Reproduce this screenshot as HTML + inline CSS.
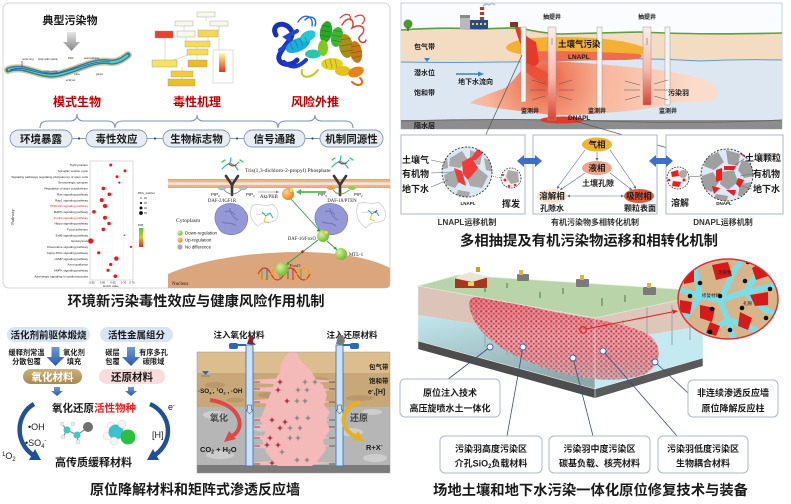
<!DOCTYPE html>
<html><head><meta charset="utf-8">
<style>
html,body{margin:0;padding:0;background:#fff;}
svg{display:block;}
text{font-family:"Liberation Sans","Noto Sans CJK SC",sans-serif;fill:#1a1a1a;}
.b{font-weight:bold;}
.s{font-family:"Liberation Serif","Noto Serif CJK SC",serif;}
</style></head><body>
<svg width="791" height="504" viewBox="0 0 791 504" xmlns="http://www.w3.org/2000/svg">
<defs>
 <linearGradient id="ga" x1="0" y1="0" x2="0" y2="1"><stop offset="0" stop-color="#e6e6e6"/><stop offset="1" stop-color="#858585"/></linearGradient>
 <linearGradient id="fdr" x1="0" y1="0" x2="0" y2="1"><stop offset="0" stop-color="#40d040"/><stop offset="0.5" stop-color="#e0c020"/><stop offset="1" stop-color="#f02020"/></linearGradient>
 <linearGradient id="hm" x1="0" y1="0" x2="0" y2="1"><stop offset="0" stop-color="#ffffa0"/><stop offset="1" stop-color="#f03010"/></linearGradient>
 <radialGradient id="plg" cx="545" cy="80" r="150" gradientUnits="userSpaceOnUse"><stop offset="0" stop-color="#e8503a"/><stop offset="0.15" stop-color="#f08262"/><stop offset="0.42" stop-color="#f8b89e"/><stop offset="1" stop-color="#fbdccb"/></radialGradient>
 <linearGradient id="wr" x1="0" y1="0" x2="0" y2="1"><stop offset="0" stop-color="#fbeeea"/><stop offset="0.55" stop-color="#f6b8a8"/><stop offset="1" stop-color="#e04030"/></linearGradient>
 <linearGradient id="brn" x1="0" y1="0" x2="0" y2="1"><stop offset="0" stop-color="#cdb07a"/><stop offset="1" stop-color="#a88a4e"/></linearGradient>
 <linearGradient id="ar" x1="0" y1="0" x2="0" y2="1"><stop offset="0" stop-color="#6f9ad8"/><stop offset="1" stop-color="#2a58a8"/></linearGradient>
 <linearGradient id="wg" x1="0" y1="0" x2="0.5" y2="1"><stop offset="0" stop-color="#c2e8ef"/><stop offset="0.55" stop-color="#a6c6ca"/><stop offset="1" stop-color="#8ea8aa"/></linearGradient>
 <linearGradient id="plo" x1="0" y1="0" x2="0" y2="1"><stop offset="0" stop-color="#d83848" stop-opacity="0.45"/><stop offset="0.5" stop-color="#d83848" stop-opacity="0.1"/><stop offset="1" stop-color="#98aeb2" stop-opacity="0.45"/></linearGradient>
 <pattern id="pp" width="5" height="5" patternUnits="userSpaceOnUse"><rect width="5" height="5" fill="#e6a4a8"/><circle cx="1.3" cy="1.3" r="1.1" fill="#c83848"/><circle cx="3.8" cy="3.8" r="1" fill="#cf4a58"/><circle cx="3.8" cy="1.2" r="0.7" fill="#f6e2e2"/></pattern>
 <radialGradient id="gb" cx="0.35" cy="0.35" r="0.7"><stop offset="0" stop-color="#d8f0a0"/><stop offset="1" stop-color="#6cb82a"/></radialGradient>
 <radialGradient id="ob" cx="0.35" cy="0.35" r="0.7"><stop offset="0" stop-color="#ffd090"/><stop offset="1" stop-color="#e8801c"/></radialGradient>
 <clipPath id="c1"><circle cx="467" cy="172" r="25"/></clipPath>
 <clipPath id="c3"><circle cx="727" cy="175" r="26"/></clipPath>
 <clipPath id="ci"><ellipse cx="728" cy="299" rx="50" ry="40"/></clipPath>
 <clipPath id="bc"><rect x="197" y="352" width="193" height="121"/></clipPath>
 <path id="st" d="M0,-3 L0.9,-0.9 L3,0 L0.9,0.9 L0,3 L-0.9,0.9 L-3,0 L-0.9,-0.9 Z"/>
</defs>

<!-- ================= TOP LEFT ================= -->
<rect x="3" y="3" width="387" height="285" rx="6" fill="#fff" stroke="#d4d4d4"/>
<text x="70" y="24" font-size="11" class="b" text-anchor="middle">典型污染物</text>
<path d="M67,32 H76 V42 H80 L71.5,51 L63,42 H67 Z" fill="url(#ga)"/>
<!-- worm -->
<path d="M8,70 C25,63 40,79 60,74 C80,69 95,59 110,62 C118,63 124,58 128,55" fill="none" stroke="#d8c89e" stroke-width="8" stroke-linecap="round"/>
<path d="M8,70 C25,63 40,79 60,74 C80,69 95,59 110,62 C118,63 124,58 128,55" fill="none" stroke="#2c7fa0" stroke-width="5" stroke-linecap="round"/>
<path d="M8,70 C25,63 40,79 60,74 C80,69 95,59 110,62 C118,63 124,58 128,55" fill="none" stroke="#5ccac0" stroke-width="2.2"/>
<path d="M10,70 C25,64 40,78 60,73 C80,68 95,60 110,62" fill="none" stroke="#1d4e8a" stroke-width="0.7"/>
<path d="M22,61 V67" stroke="#d02020" stroke-width="0.8"/>
<text x="22" y="60" font-size="2.6" fill="#d02020">nerve ring</text>
<text x="38" y="60" font-size="2.6" fill="#20a8c0">body wall muscle</text>
<text x="68" y="59" font-size="2.6" fill="#d02020">DNC</text>
<text x="84" y="59" font-size="2.6">spermatheca</text>
<text x="44" y="72" font-size="2.4">cross section</text>
<text x="74" y="75" font-size="2.4">vulva</text>
<text x="96" y="75" font-size="2.4">gonad</text>
<text x="66" y="81" font-size="2.4" fill="#d02020">embryos</text>
<!-- flowchart -->
<g stroke="#bbb" stroke-width="0.5" fill="none">
 <path d="M206,17 V21 M184,26 V31 M219,26 V30 M186,37 V41 M208,37 V41 M197,47 V49 M197,55 V60 M165,38 V60 M182,67 V71 M182,77 V79 M219,26 V53 M165,63 L188,55"/>
</g>
<rect x="197" y="12" width="18" height="5" fill="#f7f7ea" stroke="#999" stroke-width="0.4"/>
<rect x="175" y="21" width="18" height="5" fill="#f7f7ea" stroke="#999" stroke-width="0.4"/>
<rect x="210" y="21" width="18" height="5" fill="#f7f7ea" stroke="#999" stroke-width="0.4"/>
<rect x="155" y="31" width="18" height="7" fill="#e8402a" stroke="#999" stroke-width="0.4"/>
<rect x="177" y="31" width="18" height="6" fill="#f7f7ea" stroke="#999" stroke-width="0.4"/>
<rect x="198" y="30" width="20" height="7" fill="#f6d850" stroke="#999" stroke-width="0.4"/>
<rect x="185" y="41" width="25" height="6" fill="#f6dc50" stroke="#999" stroke-width="0.4"/>
<rect x="187" y="49" width="21" height="6" fill="#f6dc50" stroke="#999" stroke-width="0.4"/>
<rect x="152" y="60" width="25" height="7" fill="#f8e060" stroke="#999" stroke-width="0.4"/>
<rect x="188" y="60" width="19" height="7" fill="#f0b830" stroke="#999" stroke-width="0.4"/>
<rect x="171" y="71" width="22" height="6" fill="#f4cc30" stroke="#999" stroke-width="0.4"/>
<rect x="168" y="79" width="27" height="7" fill="#e8c020" stroke="#999" stroke-width="0.4"/>
<rect x="213" y="50" width="20" height="33" fill="#fff" stroke="#aaa" stroke-width="0.4"/>
<rect x="219" y="53" width="6" height="19" fill="url(#hm)"/>
<!-- protein -->
<g fill="none" stroke-linecap="round">
 <path d="M342,25 C348,14 356,20 352,28 C362,22 368,30 360,36 C356,40 364,46 366,40" stroke="#e03a28" stroke-width="1.4"/>
 <path d="M340,18 C346,12 352,14 350,20 M355,17 C362,12 368,18 362,24" stroke="#e04030" stroke-width="1.2"/>
 <path d="M298,22 C304,12 314,16 312,26 M305,20 C310,14 318,18 315,26" stroke="#2a6ad8" stroke-width="1.4"/>
 <path d="M276,35 C270,24 285,20 291,30 C296,38 282,46 279,56 C277,64 290,68 297,60" stroke="#1830c0" stroke-width="5"/>
 <path d="M280,50 L293,42 L286,37 L297,31" stroke="#2244d4" stroke-width="4"/>
 <path d="M284,62 C292,70 300,66 306,60" stroke="#1a3ac8" stroke-width="4"/>
 <path d="M318,70 C310,80 300,78 302,70" stroke="#c8c820" stroke-width="2"/>
 <path d="M360,78 C366,84 358,88 352,82" stroke="#e86a10" stroke-width="2"/>
</g>
<g>
 <ellipse cx="298" cy="45" rx="13" ry="6.5" transform="rotate(-25 298 45)" fill="#18b0d8"/>
 <ellipse cx="308" cy="36" rx="8" ry="5" transform="rotate(-25 308 36)" fill="#20c8d8"/>
 <ellipse cx="313" cy="54" rx="8" ry="4.5" fill="#28c8b0"/>
 <ellipse cx="326" cy="32" rx="6" ry="11" transform="rotate(10 326 32)" fill="#2aa82a"/>
 <ellipse cx="337" cy="37" rx="6" ry="10" transform="rotate(10 337 37)" fill="#38b830"/>
 <ellipse cx="323" cy="48" rx="5" ry="8" fill="#80c820"/>
 <ellipse cx="346" cy="46" rx="7" ry="12" transform="rotate(-10 346 46)" fill="#a89018"/>
 <ellipse cx="356" cy="52" rx="6" ry="11" transform="rotate(-10 356 52)" fill="#c47a18"/>
 <ellipse cx="332" cy="64" rx="11" ry="6" fill="#e6d020"/>
 <ellipse cx="343" cy="71" rx="8" ry="5" fill="#e8c018"/>
 <ellipse cx="356" cy="72" rx="8" ry="5" transform="rotate(-20 356 72)" fill="#e8821c"/>
</g>
<g stroke="rgba(0,0,0,0.25)" stroke-width="0.8" fill="none">
 <path d="M290,42 l3,8 M295,40 l3,8 M300,38 l3,8 M305,37 l3,8"/>
 <path d="M321,25 l9,2 M320,30 l10,2 M320,35 l10,2 M332,30 l10,2 M332,35 l10,2 M332,40 l10,2"/>
 <path d="M340,40 l12,-2 M340,46 l12,-2 M341,52 l12,-2 M351,47 l11,-2 M351,53 l11,-2 M351,58 l10,-2"/>
 <path d="M325,60 l2,8 M330,59 l2,9 M335,59 l2,9"/>
</g>
<!-- red titles -->
<text x="77" y="106" font-size="12" class="b" text-anchor="middle" style="fill:#c00000">模式生物</text>
<text x="197" y="106" font-size="12" class="b" text-anchor="middle" style="fill:#c00000">毒性机理</text>
<text x="315" y="106" font-size="12" class="b" text-anchor="middle" style="fill:#c00000">风险外推</text>
<!-- braces -->
<g fill="none" stroke="#7a92ba" stroke-width="1.1">
 <path d="M40,128 Q40,121 48,121 L70,121 Q77,121 77,114 Q77,121 84,121 L107,121 Q115,121 115,128"/>
 <path d="M115,128 Q115,121 123,121 L190,121 Q197,121 197,115 Q197,121 204,121 L270,121 Q278,121 278,128"/>
 <path d="M278,128 Q278,121 286,121 L308,121 Q315,121 315,115 Q315,121 322,121 L345,121 Q353,121 353,128"/>
</g>
<!-- pills -->
<g stroke="#6a80aa" stroke-width="0.8">
 <line x1="72" y1="138.5" x2="86" y2="138.5"/><line x1="147" y1="138.5" x2="163" y2="138.5"/><line x1="230" y1="138.5" x2="244" y2="138.5"/><line x1="305" y1="138.5" x2="320" y2="138.5"/>
</g>
<g fill="#2c4a86"><circle cx="79" cy="138.5" r="1.1"/><circle cx="155" cy="138.5" r="1.1"/><circle cx="237" cy="138.5" r="1.1"/><circle cx="312.5" cy="138.5" r="1.1"/></g>
<g fill="#e8ecf3" stroke="#8597ba" stroke-width="0.9">
 <rect x="10" y="130" width="62" height="17" rx="8.5"/>
 <rect x="86" y="130" width="61" height="17" rx="8.5"/>
 <rect x="163" y="130" width="67" height="17" rx="8.5"/>
 <rect x="244" y="130" width="61" height="17" rx="8.5"/>
 <rect x="320" y="130" width="63" height="17" rx="8.5"/>
</g>
<g font-size="10.5" class="b" text-anchor="middle">
 <text x="41" y="142.5" class="b">环境暴露</text>
 <text x="116.5" y="142.5" class="b">毒性效应</text>
 <text x="196.5" y="142.5" class="b">生物标志物</text>
 <text x="274.5" y="142.5" class="b">信号通路</text>
 <text x="351.5" y="142.5" class="b">机制同源性</text>
</g>
<!-- dot plot -->
<rect x="90" y="161" width="43" height="119" fill="#fff" stroke="#c4c4c4" stroke-width="0.6"/>
<g stroke="#eee" stroke-width="0.4"><line x1="92" y1="161" x2="92" y2="280"/><line x1="102.5" y1="161" x2="102.5" y2="280"/><line x1="113" y1="161" x2="113" y2="280"/><line x1="123.5" y1="161" x2="123.5" y2="280"/></g>
<g font-size="3.1" text-anchor="end" class="s">
 <text x="88" y="166.2">Tight junction</text>
 <text x="88" y="172">Synaptic vesicle cycle</text>
 <text x="88" y="177.9">Signaling pathways regulating pluripotency of stem cells</text>
 <text x="88" y="183.7">Serotonergic synapse</text>
 <text x="88" y="189.6">Regulation of actin cytoskeleton</text>
 <text x="88" y="195.4">Ras signaling pathway</text>
 <text x="88" y="201.3">Rap1 signaling pathway</text>
 <text x="88" y="207.1" style="fill:#e02020">PI3K-Akt signaling pathway</text>
 <text x="88" y="213">MAPK signaling pathway</text>
 <text x="88" y="218.8" style="fill:#e02020">Insulin signaling pathway</text>
 <text x="88" y="224.7">Hippo signaling pathway</text>
 <text x="88" y="230.5">Focal adhesion</text>
 <text x="88" y="236.4">ErbB signaling pathway</text>
 <text x="88" y="242.2">Endocytosis</text>
 <text x="88" y="248.1">Chemokine signaling pathway</text>
 <text x="88" y="253.9">Cgmp-PKG signaling pathway</text>
 <text x="88" y="259.8">cAMP signaling pathway</text>
 <text x="88" y="265.6">Axon guidance</text>
 <text x="88" y="271.5">AMPK signaling pathway</text>
 <text x="88" y="277.3">Adrenergic signaling in cardiomyocytes</text>
</g>
<g fill="#f01818">
 <circle cx="110.7" cy="165" r="1.5"/><circle cx="125" cy="170.9" r="1.5"/><circle cx="117" cy="176.7" r="1.5"/><circle cx="119.3" cy="182.6" r="1.1"/>
 <circle cx="103.3" cy="188.4" r="1.8"/><circle cx="109.3" cy="194.3" r="1.8"/><circle cx="101.7" cy="200.1" r="2"/><circle cx="105" cy="206" r="2.2"/>
 <circle cx="94" cy="211.8" r="1.8"/><circle cx="105" cy="217.7" r="2"/><circle cx="109" cy="223.5" r="1.8"/><circle cx="103.3" cy="229.4" r="1.8"/>
 <circle cx="124.3" cy="235.2" r="0.7"/><circle cx="90.7" cy="241" r="2.6"/><circle cx="131" cy="246.9" r="1.1"/><circle cx="98.7" cy="252.8" r="1.6"/>
 <circle cx="116.3" cy="258.6" r="2.2"/><circle cx="110.7" cy="264.5" r="1.6"/><circle cx="108" cy="270.3" r="1.6"/><circle cx="115.3" cy="276.2" r="1.8"/>
</g>
<text x="14" y="217" font-size="4.5" class="s" text-anchor="middle" transform="rotate(-90 14 217)">Pathway</text>
<g font-size="2.8" class="s" text-anchor="middle"><text x="92" y="283.5">0.55</text><text x="102.5" y="283.5">0.60</text><text x="113" y="283.5">0.65</text><text x="123.5" y="283.5">0.70</text><text x="132" y="283.5">0.75</text><text x="111" y="287">Enrich value</text></g>
<text x="138" y="194" font-size="3" class="s">DEG_number</text>
<g fill="#111"><circle cx="141" cy="198" r="0.6"/><circle cx="141" cy="203" r="1.1"/><circle cx="141" cy="208" r="1.5"/><circle cx="141" cy="213" r="1.9"/></g>
<g font-size="2.6" class="s"><text x="144" y="199">20</text><text x="144" y="204">30</text><text x="144" y="209">40</text><text x="144" y="214">50</text><text x="138" y="226">FDR</text></g>
<rect x="139" y="228" width="4" height="19" fill="url(#fdr)"/>
<!-- pathway figure -->
<path d="M168,288 L168,274 C200,260 250,252 300,252 C345,252 375,260 390,268 L390,284 Q390,288 386,288 Z" fill="#dba67d"/>
<text x="172" y="285" font-size="5" class="s">Nucleus</text>
<rect x="168" y="179" width="222" height="9" fill="#e9b58e"/>
<rect x="168" y="182.3" width="222" height="2.6" fill="#f7e3d0"/>
<line x1="168" y1="179.3" x2="390" y2="179.3" stroke="#d08a58" stroke-width="0.6" stroke-dasharray="1 0.8"/>
<line x1="168" y1="187.7" x2="390" y2="187.7" stroke="#d08a58" stroke-width="0.6" stroke-dasharray="1 0.8"/>
<text x="245" y="172" font-size="5.6" class="s">Tris(1,3-dichloro-2-propyl) Phosphate</text>
<g stroke-width="1.2" fill="none" stroke-linecap="round">
 <path d="M225,166 l5,-3 l5,3 l4,-4 M230,163 l1,-5 M235,166 l3,4 M225,166 l-3,3" stroke="#20b8c8"/>
 <path d="M229,164 l3,2 l4,-1" stroke="#e02020"/>
 <path d="M222,162 l3,-2 M240,160 l3,2" stroke="#40c040"/>
 <path d="M335,164 l5,-3 l5,3 l4,-4 M340,161 l1,-5 M345,164 l3,4 M335,164 l-3,3" stroke="#20b8c8"/>
 <path d="M339,162 l3,2 l4,-1" stroke="#e02020"/>
 <path d="M332,160 l3,-2 M350,158 l3,2" stroke="#40c040"/>
</g>
<g stroke="#3a3a3a" stroke-width="2.6" fill="none" stroke-linecap="round">
 <path d="M226,176 L232,185 L238,176 M232,185 V195"/>
 <path d="M334,176 L340,185 L346,176 M340,185 V195"/>
</g>
<g fill="#bbb" stroke="#888" stroke-width="0.3"><ellipse cx="222" cy="188" rx="4" ry="2"/><ellipse cx="243" cy="188" rx="4" ry="2"/></g>
<path d="M224,190 Q232,198 241,190" fill="none" stroke="#666" stroke-width="0.6"/>
<ellipse cx="331" cy="188" rx="4" ry="2" fill="#f0a040"/><ellipse cx="352" cy="188" rx="4" ry="2" fill="#90d050"/>
<path d="M333,190 Q340,198 349,190" fill="none" stroke="#2a9a3a" stroke-width="0.8"/>
<text x="340" y="195.5" font-size="5" text-anchor="middle" class="b" style="fill:#e02020">✕</text>
<g font-size="4.4" class="s"><text x="211" y="196">PIP<tspan font-size="2.8" dy="1">2</tspan></text><text x="246" y="196">PIP<tspan font-size="2.8" dy="1">3</tspan></text><text x="318" y="196">PIP<tspan font-size="2.8" dy="1">3</tspan></text><text x="354" y="196">PIP<tspan font-size="2.8" dy="1">2</tspan></text></g>
<text x="222" y="202" font-size="4.8" class="s" text-anchor="middle">DAF-2/IGF1R</text>
<text x="342" y="202" font-size="4.8" class="s" text-anchor="middle">DAF-18/PTEN</text>
<text x="260" y="198" font-size="4.8" class="s">Akt/PKB</text>
<line x1="258" y1="192" x2="279" y2="192" stroke="#777" stroke-width="0.5"/>
<path d="M279,192 l-3,-1.3 v2.6 z" fill="#777"/>
<line x1="326" y1="192" x2="299" y2="192" stroke="#4cc050" stroke-width="1.8"/>
<path d="M296,192 l5,-3 v6 z" fill="#4cc050"/>
<circle cx="288" cy="194" r="6" fill="url(#ob)"/>
<circle cx="291" cy="190.5" r="2" fill="#ffe040" stroke="#a08000" stroke-width="0.3"/>
<!-- purple blobs -->
<path d="M221,206 C230,201 241,204 245,211 C250,216 248,227 241,232 C232,237 221,235 218,227 C213,220 214,211 221,206 Z" fill="#9498d6" stroke="#7076bc" stroke-width="0.6"/>
<path d="M225,212 c4,-2 8,0 10,3 M222,222 c5,2 10,0 14,4 M230,208 c0,6 4,10 8,12" fill="none" stroke="#6e74bc" stroke-width="1"/>
<path d="M321,206 C330,201 341,204 345,211 C350,216 348,227 341,232 C332,237 321,235 318,227 C313,220 314,211 321,206 Z" fill="#9498d6" stroke="#7076bc" stroke-width="0.6"/>
<path d="M325,212 c4,-2 8,0 10,3 M322,222 c5,2 10,0 14,4 M330,208 c0,6 4,10 8,12" fill="none" stroke="#6e74bc" stroke-width="1"/>
<g fill="none" stroke="#cfcfcf" stroke-width="0.8">
 <path d="M252,206 c6,-4 14,2 20,-2 c6,4 8,10 4,16 c-6,4 -12,0 -18,6 c-6,-4 -10,-10 -6,-20 z M256,214 c6,2 10,-4 16,2"/>
 <path d="M358,204 c6,-4 14,2 20,-2 c6,4 10,12 6,18 c-6,4 -12,0 -18,8 c-6,-4 -12,-12 -8,-24 z M362,212 c6,2 10,-4 16,2"/>
</g>
<g stroke-width="0.9" fill="none"><path d="M262,212 l4,4 l4,-3 l3,5" stroke="#20a8c0"/><path d="M266,216 l-2,5 l5,2" stroke="#e0c020"/><path d="M368,210 l4,4 l4,-3 l3,5" stroke="#20a8c0"/><path d="M372,214 l-2,5 l5,2" stroke="#e0c020"/><path d="M375,213 l2,-3" stroke="#e02020"/></g>
<text x="176" y="222" font-size="5.6" class="s">Cytoplasm</text>
<circle cx="180" cy="233" r="2.6" fill="url(#gb)"/><circle cx="180" cy="240" r="2.6" fill="url(#ob)"/><circle cx="180" cy="247" r="2.6" fill="#aaa"/>
<g font-size="4.4" class="s"><text x="185" y="234.5">Down-regulation</text><text x="185" y="241.5">Up-regulation</text><text x="185" y="248.5">No difference</text></g>
<g stroke="#2aa03a" stroke-width="0.9" fill="none"><line x1="291" y1="199" x2="320" y2="231"/><line x1="327" y1="241" x2="337" y2="250"/><line x1="318" y1="240" x2="287" y2="264"/></g>
<path d="M320,232 l-3.5,-1 l2,-2.5 z" fill="#2aa03a"/><path d="M337,250 l-1,-3.5 l-2.5,2 z" fill="#2aa03a"/><path d="M286,265 l3.5,-0.5 l-1.5,-3 z" fill="#2aa03a"/>
<rect x="301" y="250.5" width="3" height="2.5" fill="#e02020" transform="rotate(-37 302.5 251.7)"/>
<circle cx="323" cy="236" r="6" fill="url(#gb)"/><circle cx="326" cy="232.5" r="2" fill="#ffe040" stroke="#a08000" stroke-width="0.3"/>
<text x="316" y="240" font-size="4.8" class="s" text-anchor="end">DAF-16/FoxO</text>
<circle cx="341" cy="254" r="6" fill="url(#gb)"/>
<text x="349" y="256" font-size="4.8" class="s">MTL-1</text>
<!-- DNA -->
<g fill="none" stroke-width="1.2">
 <path d="M258,274 C262,266 267,266 271,274 S280,282 284,274 S293,266 297,274 S306,282 310,274" stroke="#e0302a"/>
 <path d="M258,274 C262,282 267,282 271,274 S280,266 284,274 S293,282 297,274 S306,266 310,274" stroke="#f0a020"/>
</g>
<g stroke-width="0.9"><line x1="262" y1="269" x2="262" y2="279" stroke="#40b040"/><line x1="267" y1="268" x2="267" y2="280" stroke="#2060d0"/><line x1="275" y1="269" x2="275" y2="279" stroke="#e0c020"/><line x1="280" y1="268" x2="280" y2="280" stroke="#40b040"/><line x1="288" y1="269" x2="288" y2="279" stroke="#2060d0"/><line x1="293" y1="268" x2="293" y2="280" stroke="#d02020"/><line x1="301" y1="269" x2="301" y2="279" stroke="#40b040"/><line x1="306" y1="268" x2="306" y2="280" stroke="#e0c020"/></g>
<circle cx="282" cy="269" r="6.5" fill="url(#gb)"/>
<text x="290" y="267" font-size="4.6" class="s">FoxO</text>
<text x="196" y="306" font-size="14.3" class="b" text-anchor="middle" textLength="257" lengthAdjust="spacingAndGlyphs">环境新污染毒性效应与健康风险作用机制</text>

<!-- ================= TOP RIGHT ================= -->
<rect x="401" y="3" width="381" height="126" fill="#fbfcfd" stroke="#b9c6d6" stroke-width="0.8"/>
<path d="M401,30 Q440,27 480,29 Q500,28 520,28 Q540,33 560,34 Q600,33 640,32 Q700,35 782,33 V61 Q740,59 700,61 Q650,58 600,59 Q550,62 500,62 Q450,63 401,62 Z" fill="#f4dcc3"/>
<path d="M401,62 Q450,63 500,62 Q550,62 600,59 Q650,58 700,61 Q740,59 782,60 V121 H401 Z" fill="#dce7f1"/>
<rect x="401" y="120" width="381" height="9" fill="#8d8d8d"/>
<path d="M401,121 Q500,118 600,121 T782,120" fill="none" stroke="#6a6a6a" stroke-width="1"/>
<path d="M401,30 Q440,27 480,29 Q500,28 520,28 Q540,33 560,34 Q600,33 640,32 Q700,35 782,33" fill="none" stroke="#5aa040" stroke-width="1.6"/>
<path d="M401,62 Q450,63 500,62 Q550,62 600,59 Q650,58 700,61 Q740,59 782,60" fill="none" stroke="#5b9ad8" stroke-width="1"/>
<!-- plumes -->
<path d="M470,103 C480,96 495,92 505,88 C515,80 520,70 530,62 C560,60 600,64 640,68 C665,70 690,75 705,80 C718,86 722,96 712,100 C700,104 685,100 672,103 C650,110 620,112 600,113 C575,116 550,116 530,112 C510,110 490,108 470,103 Z" fill="url(#plg)"/>
<path d="M506,47 C510,40 530,37 560,37 C600,37 630,41 645,48 C650,53 640,56 625,55 L540,56 C520,55 505,52 506,47 Z" fill="#f2b035"/>
<path d="M525,52 C550,50 600,52 640,54 C645,57 640,60 620,60 L540,61 C528,60 522,56 525,52 Z" fill="#ef6c4c"/>
<path d="M515,27 L519,27 C522,33 528,38 536,42 L539,62 C536,67 530,70 524,67 L521,45 C518,38 516,32 515,27 Z" fill="#e63a28"/>
<path d="M524,62 C532,66 542,68 548,74 L548,86 C540,82 530,76 524,70 Z" fill="#ea5238"/>
<ellipse cx="562" cy="120" rx="22" ry="3.5" fill="#e23a26"/>
<!-- factory -->
<rect x="460" y="17" width="10" height="12" fill="#b8b8b8"/><rect x="460" y="15" width="10" height="3" fill="#8a8a8a"/>
<rect x="480" y="7" width="4" height="14" fill="#c83020"/><rect x="480" y="10" width="4" height="2" fill="#fff"/><rect x="480" y="15" width="4" height="2" fill="#fff"/>
<rect x="470" y="20" width="18" height="9" fill="#2a4a8a"/><g fill="#f0d040"><rect x="472" y="23" width="2" height="2"/><rect x="476" y="23" width="2" height="2"/><rect x="480" y="23" width="2" height="2"/><rect x="484" y="23" width="2" height="2"/></g>
<path d="M483,6 q3,-3 6,-1 q3,-3 6,0" fill="none" stroke="#a8c0d8" stroke-width="1.5"/>
<circle cx="408" cy="24" r="4.5" fill="#4a9a30"/><rect x="407.3" y="27" width="1.4" height="4" fill="#6a4a20"/>
<rect x="510" y="22" width="8" height="5" fill="#7a3a20"/>
<!-- wells -->
<rect x="521" y="27" width="5" height="75" fill="#f4f4f4" stroke="#999" stroke-width="0.5"/>
<rect x="548" y="27" width="8" height="93" fill="url(#wr)" stroke="#999" stroke-width="0.5"/>
<rect x="597" y="27" width="5" height="81" fill="#f4f4f4" stroke="#999" stroke-width="0.5"/>
<rect x="643" y="27" width="8" height="78" fill="url(#wr)" stroke="#999" stroke-width="0.5"/>
<rect x="665" y="27" width="5" height="78" fill="#f4f4f4" stroke="#999" stroke-width="0.5"/>
<g stroke="#555" stroke-width="0.5">
 <line x1="532" y1="80" x2="545" y2="84"/><line x1="530" y1="90" x2="545" y2="90"/><line x1="532" y1="100" x2="545" y2="96"/>
 <line x1="572" y1="80" x2="559" y2="84"/><line x1="574" y1="90" x2="559" y2="90"/><line x1="572" y1="100" x2="559" y2="96"/>
 <line x1="625" y1="81" x2="640" y2="85"/><line x1="624" y1="90" x2="640" y2="90"/><line x1="625" y1="100" x2="640" y2="96"/>
 <line x1="668" y1="80" x2="654" y2="84"/><line x1="668" y1="90" x2="654" y2="90"/><line x1="668" y1="100" x2="654" y2="96"/>
 <line x1="552" y1="45" x2="552" y2="38"/><line x1="647" y1="45" x2="647" y2="38"/>
</g>
<g font-size="6" class="b" text-anchor="middle"><text x="552" y="19">抽提井</text><text x="647" y="19">抽提井</text><text x="530" y="113">监测井</text><text x="597" y="113">监测井</text><text x="668" y="113">监测井</text></g>
<g font-size="7" class="b"><text x="414" y="49">包气带</text><text x="414" y="75">潜水位</text><text x="414" y="95">饱和带</text><text x="414" y="128">隔水层</text><text x="458" y="84">地下水流向</text></g>
<path d="M424,58 h6 l-3,4 z" fill="#3a80d0"/>
<line x1="456" y1="74" x2="479" y2="74" stroke="#3a80d0" stroke-width="1.5"/><path d="M484,74 l-6,-2.5 v5 z" fill="#3a80d0"/>
<text x="558" y="47" font-size="8.5" class="b">土壤气污染</text>
<text x="568" y="59" font-size="6.5" class="b">LNAPL</text>
<text x="668" y="95" font-size="7" class="b">污染羽</text>
<text x="568" y="120" font-size="6.5" class="b">DNAPL</text>
<g stroke="#555" stroke-width="0.7"><line x1="522" y1="55" x2="478" y2="152"/><line x1="575" y1="121" x2="702" y2="158"/></g>

<!-- three boxes -->
<g fill="#fff" stroke="#a9b7cd" stroke-width="1"><rect x="401" y="135" width="124" height="79"/><rect x="533" y="135" width="124" height="79"/><rect x="666" y="135" width="117" height="79"/></g>
<g fill="#3e6fc8"><path d="M517,161 L524,155 V158 H535 V155 L542,161 L535,167 V164 H524 V167 Z"/><path d="M649,161 L656,155 V158 H666 V155 L673,161 L666,167 V164 H656 V167 Z"/></g>
<!-- box1 -->
<circle cx="467" cy="172" r="25" fill="#dbe9f6"/>
<g clip-path="url(#c1)">
 <g fill="#a9a9a9"><path d="M450,158 L462,151 L468,160 L460,168 L449,166 Z"/><path d="M470,150 L482,155 L480,165 L470,163 Z"/><path d="M444,175 L455,170 L462,178 L455,188 L446,185 Z"/><path d="M466,174 L478,168 L488,176 L482,188 L470,186 Z"/><path d="M458,190 L470,192 L468,199 L455,198 Z"/><path d="M484,158 L493,162 L493,172 L486,170 Z"/><path d="M440,160 L447,156 L448,168 L440,170 Z"/></g>
 <g fill="#f23a3a"><path d="M462,162 L471,157 L478,168 L468,180 L463,174 Z"/><path d="M454,168 L462,171 L466,186 L458,182 Z"/><path d="M470,160 L478,148 L484,152 L476,160 Z"/></g>
</g>
<circle cx="467" cy="172" r="25" fill="none" stroke="#333" stroke-width="0.9" stroke-dasharray="2 1.5"/>
<circle cx="511" cy="178" r="10" fill="#f3f3f3" stroke="#333" stroke-width="0.8" stroke-dasharray="1.6 1.2"/>
<path d="M508,170 L518,172 L519,182 L511,184 L506,177 Z" fill="#a9a9a9"/>
<g fill="#f03030"><circle cx="505" cy="180" r="1.5"/><circle cx="509" cy="186" r="1.3"/><circle cx="515" cy="185" r="1.3"/><circle cx="503" cy="175" r="1.1"/></g>
<line x1="491" y1="176" x2="501" y2="178" stroke="#555" stroke-width="0.6" stroke-dasharray="1 1"/>
<g stroke="#666" stroke-width="0.6"><line x1="431" y1="160" x2="445" y2="163"/><line x1="431" y1="173" x2="452" y2="172"/><line x1="431" y1="187" x2="448" y2="180"/></g>
<g font-size="9" class="b"><text x="402" y="163">土壤气</text><text x="402" y="177">有机物</text><text x="402" y="192">地下水</text><text x="502" y="207">挥发</text></g>
<text x="468" y="205" font-size="4.5" class="b" text-anchor="middle">LNAPL</text>
<!-- box2 -->
<g stroke="#4a6cb0" stroke-width="0.6" fill="none">
 <line x1="597" y1="152" x2="597" y2="160"/><line x1="585" y1="150" x2="557" y2="188"/><line x1="610" y1="150" x2="636" y2="188"/>
 <line x1="585" y1="173" x2="560" y2="190"/><line x1="610" y1="173" x2="632" y2="190"/><line x1="568" y1="196" x2="623" y2="196"/>
</g>
<g fill="#4a6cb0"><path d="M597,161 l-1.5,-3 h3 z"/><path d="M557,189 l0.4,-3.3 l2.4,1.7 z"/><path d="M636,189 l-2.8,-1.7 l2.4,-1.7 z"/><path d="M560,190 l1.5,-2.8 l1.4,2.2 z"/><path d="M632,190 l-3,-0.5 l1.6,-2.2 z"/><path d="M567,196 l3,-1.5 v3 z"/><path d="M624,196 l-3,-1.5 v3 z"/></g>
<ellipse cx="597" cy="144.5" rx="15" ry="7" fill="#f0b232"/>
<ellipse cx="597" cy="168" rx="15" ry="7" fill="#f2a488"/>
<ellipse cx="552" cy="196" rx="15" ry="7" fill="#fbe2cf"/>
<ellipse cx="639" cy="196" rx="15" ry="7" fill="#e2583a"/>
<g font-size="8.5" class="b" text-anchor="middle"><text x="597" y="147.5">气相</text><text x="597" y="171">液相</text><text x="552" y="199">溶解相</text><text x="639" y="199">吸附相</text></g>
<g font-size="8" class="b" text-anchor="middle"><text x="598" y="186">土壤孔隙</text><text x="552" y="211">孔隙水</text><text x="640" y="211">颗粒表面</text></g>
<!-- box3 -->
<circle cx="727" cy="175" r="26" fill="#dbe9f6"/>
<g clip-path="url(#c3)">
 <g fill="#9f9f9f"><path d="M706,158 L718,152 L724,162 L714,170 L704,166 Z"/><path d="M726,150 L740,154 L738,166 L728,164 Z"/><path d="M742,160 L752,164 L754,176 L744,178 L738,170 Z"/><path d="M702,176 L713,172 L719,182 L712,192 L702,188 Z"/><path d="M722,172 L734,170 L738,182 L728,190 L720,184 Z"/><path d="M740,184 L752,182 L750,196 L738,196 Z"/><path d="M716,194 L728,196 L726,204 L712,202 Z"/></g>
 <g fill="#ee1c1c"><path d="M716,170 L722,168 L722,180 L716,182 Z"/><path d="M724,166 L736,166 L734,170 L724,170 Z"/><path d="M738,178 L744,180 L740,188 L736,184 Z"/><path d="M712,186 L720,188 L714,194 Z"/><path d="M740,154 L744,150 L746,158 Z"/><path d="M726,190 L736,190 L734,196 Z"/></g>
</g>
<circle cx="727" cy="175" r="26" fill="none" stroke="#333" stroke-width="0.9" stroke-dasharray="2 1.5"/>
<circle cx="678" cy="178" r="11" fill="#f3f3f3" stroke="#333" stroke-width="0.8" stroke-dasharray="1.6 1.2"/>
<g fill="#ee1c1c"><path d="M671,172 L678,170 L679,176 L672,177 Z"/><path d="M673,181 L681,182 L679,187 L672,186 Z"/><circle cx="684" cy="180" r="1.5"/><circle cx="669" cy="180" r="1.3"/></g>
<circle cx="683" cy="174" r="4" fill="#a9a9a9"/>
<line x1="688" y1="177" x2="701" y2="176" stroke="#555" stroke-width="0.6"/>
<g stroke="#666" stroke-width="0.6"><line x1="744" y1="159" x2="735" y2="165"/><line x1="752" y1="174" x2="740" y2="176"/><line x1="752" y1="189" x2="742" y2="186"/></g>
<g font-size="9" class="b"><text x="745" y="161">土壤颗粒</text><text x="753" y="177">有机物</text><text x="753" y="192">地下水</text><text x="671" y="206">溶解</text></g>
<text x="724" y="205" font-size="4.5" class="b" text-anchor="middle">DNAPL</text>
<g font-size="8" class="b" text-anchor="middle" style="fill:#333"><text x="467" y="225" style="fill:#333">LNAPL运移机制</text><text x="595" y="225" style="fill:#333">有机污染物多相转化机制</text><text x="723" y="225" style="fill:#333">DNAPL运移机制</text></g>
<text x="589" y="245.5" font-size="14.3" class="b" text-anchor="middle" textLength="258" lengthAdjust="spacingAndGlyphs">多相抽提及有机污染物运移和相转化机制</text>

<!-- ================= BOTTOM LEFT ================= -->
<rect x="7" y="327" width="83" height="15" rx="7.5" fill="#d6e4f4"/>
<rect x="100" y="327" width="73" height="15" rx="7.5" fill="#d6e4f4"/>
<text x="48.5" y="338.5" font-size="9.5" class="b" text-anchor="middle">活化剂前驱体煅烧</text>
<text x="136.5" y="338.5" font-size="9.5" class="b" text-anchor="middle">活性金属组分</text>
<path d="M51.5,347 H59.5 V357 H64.5 L55.5,366 L46.5,357 H51.5 Z" fill="url(#ar)"/>
<path d="M127,347 H135 V357 H140 L131,366 L122,357 H127 Z" fill="url(#ar)"/>
<g font-size="7.2" class="b" style="fill:#333">
 <text x="26.5" y="355" text-anchor="middle">缓释剂常温</text><text x="26.5" y="364" text-anchor="middle">分散包覆</text>
 <text x="74" y="355" text-anchor="middle">氧化剂</text><text x="74" y="364" text-anchor="middle">填充</text>
 <text x="112.5" y="355" text-anchor="middle">碳层</text><text x="112.5" y="364" text-anchor="middle">包覆</text>
 <text x="153.5" y="355" text-anchor="middle">有序多孔</text><text x="153.5" y="364" text-anchor="middle">碳限域</text>
</g>
<rect x="23" y="369" width="59" height="15" rx="7.5" fill="url(#brn)"/>
<rect x="99" y="369" width="66" height="15" rx="7.5" fill="#f9dcdc"/>
<text x="52.5" y="380.5" font-size="10.5" class="b" text-anchor="middle" style="fill:#fff">氧化材料</text>
<text x="132" y="380.5" font-size="10.5" class="b" text-anchor="middle">还原材料</text>
<path d="M54,387 H60 V391 H63 L57,396 L51,391 H54 Z" fill="url(#ar)"/>
<path d="M128,387 H134 V391 H137 L131,396 L125,391 H128 Z" fill="url(#ar)"/>
<text x="52" y="411.5" font-size="10.5" class="b">氧化还原<tspan style="fill:#e82020">活性物种</tspan></text>
<path d="M34,404 C16,414 14,442 33,455" fill="none" stroke="#1f5098" stroke-width="4.5"/>
<path d="M41,460 L29,460 L35,449 Z" fill="#1f5098"/>
<path d="M150,404 C172,414 174,442 155,455" fill="none" stroke="#1f5098" stroke-width="4.5"/>
<path d="M147,460 L159,460 L153,449 Z" fill="#1f5098"/>
<g font-size="9"><text x="28" y="430">•OH</text><text x="25" y="446">•SO<tspan font-size="6" dy="2">4</tspan><tspan font-size="6" dy="-6">-</tspan></text><text x="2" y="459"><tspan font-size="6" dy="-3">1</tspan><tspan dy="3">O</tspan><tspan font-size="6" dy="2">2</tspan></text><text x="168" y="410">e<tspan font-size="6" dy="-3">-</tspan></text><text x="152" y="438">[H]</text></g>
<!-- molecules -->
<g stroke="#888" stroke-width="1.2"><line x1="67" y1="430" x2="77" y2="435"/><line x1="77" y1="435" x2="87" y2="428"/><line x1="67" y1="430" x2="62" y2="424"/><line x1="67" y1="430" x2="63" y2="437"/><line x1="77" y1="435" x2="78" y2="442"/></g>
<circle cx="62" cy="424" r="2" fill="#eee" stroke="#bbb" stroke-width="0.4"/><circle cx="63" cy="437" r="2" fill="#eee" stroke="#bbb" stroke-width="0.4"/><circle cx="78" cy="442" r="2" fill="#eee" stroke="#bbb" stroke-width="0.4"/><circle cx="73" cy="424" r="2" fill="#eee" stroke="#bbb" stroke-width="0.4"/>
<circle cx="67" cy="430" r="3.5" fill="#3ec8c8"/><circle cx="77" cy="435" r="3.5" fill="#3ec8c8"/><circle cx="88" cy="427" r="5" fill="#707070"/>
<circle cx="111" cy="426" r="4" fill="#f4f4f4" stroke="#ccc" stroke-width="0.4"/><circle cx="107" cy="436" r="4" fill="#f4f4f4" stroke="#ccc" stroke-width="0.4"/>
<circle cx="116" cy="432" r="7.5" fill="#38c4cc"/><circle cx="114" cy="441" r="4" fill="#f4f4f4" stroke="#ccc" stroke-width="0.4"/><circle cx="122" cy="424" r="4" fill="#f4f4f4" stroke="#ccc" stroke-width="0.4"/>
<circle cx="128" cy="437" r="7.5" fill="#2cc040"/>
<text x="93.5" y="466" font-size="11" class="b" text-anchor="middle">高传质缓释材料</text>
<text x="195" y="494.5" font-size="14" class="b" text-anchor="middle" textLength="210" lengthAdjust="spacingAndGlyphs">原位降解材料和矩阵式渗透反应墙</text>

<!-- ================= BOTTOM CENTER ================= -->
<text x="239" y="338" font-size="8.5" class="b" text-anchor="middle">注入氧化材料</text>
<text x="352" y="338" font-size="8.5" class="b" text-anchor="middle">注入还原材料</text>
<g clip-path="url(#bc)">
 <rect x="197" y="352" width="193" height="121" fill="#b6b6b6"/>
 <rect x="197" y="352" width="193" height="21" fill="#dcbd8e"/>
 <rect x="197" y="373" width="193" height="34" fill="#c8a779"/>
 <g fill="#b89568" opacity="0.8"><ellipse cx="215" cy="385" rx="10" ry="3"/><ellipse cx="270" cy="395" rx="12" ry="3"/><ellipse cx="360" cy="398" rx="14" ry="3"/><ellipse cx="320" cy="380" rx="9" ry="2.5"/><ellipse cx="235" cy="400" rx="9" ry="2.5"/></g>
 <g fill="#cdcdcd"><ellipse cx="215" cy="415" rx="12" ry="4"/><ellipse cx="262" cy="428" rx="10" ry="3.5"/><ellipse cx="350" cy="432" rx="13" ry="4"/><ellipse cx="220" cy="455" rx="14" ry="4"/><ellipse cx="375" cy="458" rx="12" ry="4"/><ellipse cx="310" cy="448" rx="9" ry="3"/><ellipse cx="372" cy="412" rx="10" ry="3"/></g>
 <rect x="197" y="465" width="193" height="8" fill="#7b7b7b"/>
 <!-- plume -->
 <path d="M284,358 L290,351 L297,353 L300,360 L306,366 L312,372 L316,380 L323,385 L327,395 L324,405 L330,412 L326,420 L330,430 L323,440 L326,450 L318,460 L312,466 L278,466 L272,460 L266,452 L262,440 L266,430 L260,420 L264,410 L268,400 L271,392 L275,380 L280,372 L281,364 Z" fill="#f4b9b9"/>
 <g fill="#f4b9b9"><path d="M254,380 Q290,376 336,381 Q290,386 254,383 Z"/><path d="M254,388 Q290,385 336,390 Q290,393 254,391 Z"/><path d="M254,400 Q290,397 336,402 Q290,405 254,403 Z"/><path d="M254,418 Q290,415 336,420 Q290,423 254,421 Z"/><path d="M254,426 Q290,423 336,428 Q290,431 254,429 Z"/><path d="M254,436 Q290,433 336,438 Q290,441 254,439 Z"/><path d="M254,445 Q290,442 336,446 Q290,449 254,448 Z"/><path d="M254,462 Q290,459 336,463 Q290,466 254,465 Z"/></g>
 <g fill="#b03040"><use href="#st" x="280" y="382"/><use href="#st" x="278" y="390"/><use href="#st" x="287" y="401"/><use href="#st" x="272" y="420"/><use href="#st" x="285" y="422"/><use href="#st" x="280" y="428"/><use href="#st" x="270" y="438"/><use href="#st" x="267" y="445"/><use href="#st" x="278" y="445"/><use href="#st" x="272" y="463"/></g>
 <g fill="#8a8a8a"><use href="#st" x="305" y="382"/><use href="#st" x="315" y="382"/><use href="#st" x="298" y="390"/><use href="#st" x="307" y="390"/><use href="#st" x="297" y="401"/><use href="#st" x="305" y="401"/><use href="#st" x="297" y="418"/><use href="#st" x="308" y="418"/><use href="#st" x="290" y="428"/><use href="#st" x="300" y="428"/><use href="#st" x="290" y="438"/><use href="#st" x="298" y="438"/><use href="#st" x="282" y="452"/><use href="#st" x="297" y="460"/><use href="#st" x="307" y="460"/></g>
 <g stroke="#222" stroke-width="0.6"><line x1="254" y1="382" x2="260" y2="382"/><line x1="254" y1="389" x2="260" y2="389"/><line x1="254" y1="402" x2="260" y2="402"/><line x1="254" y1="420" x2="260" y2="420"/><line x1="254" y1="427" x2="260" y2="427"/><line x1="254" y1="438" x2="260" y2="438"/><line x1="254" y1="446" x2="260" y2="446"/><line x1="254" y1="464" x2="260" y2="464"/>
 <line x1="329" y1="382" x2="335" y2="382"/><line x1="329" y1="389" x2="335" y2="389"/><line x1="329" y1="402" x2="335" y2="402"/><line x1="329" y1="420" x2="335" y2="420"/><line x1="329" y1="427" x2="335" y2="427"/><line x1="329" y1="438" x2="335" y2="438"/><line x1="329" y1="446" x2="335" y2="446"/><line x1="329" y1="464" x2="335" y2="464"/></g>
</g>
<rect x="197" y="352" width="193" height="121" fill="none" stroke="#999" stroke-width="0.5"/>
<rect x="246" y="345" width="7" height="121" fill="#cde3f4" stroke="#3f76c0" stroke-width="0.9"/>
<rect x="336" y="345" width="7" height="121" fill="#cde3f4" stroke="#3f76c0" stroke-width="0.9"/>
<path d="M247.5,405 h4 v5 h1.5 l-3.5,4 l-3.5,-4 h1.5 z" fill="none" stroke="#333" stroke-width="0.5"/>
<path d="M337.5,405 h4 v5 h1.5 l-3.5,4 l-3.5,-4 h1.5 z" fill="none" stroke="#333" stroke-width="0.5"/>
<g fill="#2e68b8"><rect x="229" y="343" width="9" height="6" rx="2"/><rect x="237" y="344" width="9" height="2"/><rect x="350" y="343" width="9" height="6" rx="2"/><rect x="343" y="344" width="8" height="2"/></g>
<path d="M247,344 l3,-9 l4,2 l-1,5 l3,3 Z" fill="#8a2030"/>
<path d="M336,344 l2,-8 l5,-1 l2,6 l-2,4 Z" fill="#7a7a7a"/>
<path d="M202,371 h7 l-3.5,4 z" fill="#2e68b8"/><line x1="201" y1="376" x2="210" y2="376" stroke="#2e68b8" stroke-width="0.6"/>
<g font-size="6.5" class="b" style="fill:#333"><text x="369" y="369">包气带</text><text x="369" y="383">饱和带</text></g>
<text x="368" y="394" font-size="7" class="b">e<tspan font-size="5" dy="-2.5">-</tspan><tspan dy="2.5">,[H]</tspan></text>
<text x="198" y="393" font-size="6.3" class="b">·SO<tspan font-size="4" dy="1.5">4</tspan><tspan font-size="4" dy="-4">-</tspan><tspan dy="2.5">, </tspan><tspan font-size="4" dy="-2.5">1</tspan><tspan dy="2.5">O</tspan><tspan font-size="4" dy="1.5">2</tspan><tspan dy="-1.5"> , ·OH</tspan></text>
<text x="210" y="421" font-size="9" class="b" style="fill:#444">氧化</text>
<text x="350" y="421" font-size="9" class="b" style="fill:#444">还原</text>
<text x="200" y="452" font-size="7.5" class="b">CO<tspan font-size="5" dy="1.5">2</tspan><tspan dy="-1.5"> + H</tspan><tspan font-size="5" dy="1.5">2</tspan><tspan dy="-1.5">O</tspan></text>
<text x="366" y="450" font-size="7.5" class="b">R+X<tspan font-size="5" dy="-3">-</tspan></text>
<path d="M210,400 C240,404 247,428 232,436" fill="none" stroke="#e04848" stroke-width="4"/>
<path d="M224,442 L229,431 L236,439 Z" fill="#e04848"/>
<path d="M360,402 C340,408 338,428 355,436" fill="none" stroke="#e8b020" stroke-width="4"/>
<path d="M364,441 L352,440 L358,431 Z" fill="#e8b020"/>

<!-- ================= BOTTOM RIGHT ================= -->
<polygon points="418,286 595,318 595,343 418,315" fill="#dcc4b8"/>
<polygon points="418,315 595,343 595,389 418,341" fill="url(#wg)"/>
<polygon points="418,341 595,389 595,398 418,349" fill="#4d4d4d"/>
<polygon points="595,318 703,295 703,326 595,343" fill="#dec6bb"/>
<polygon points="595,343 703,326 703,358 595,389" fill="#c4e9f1"/>
<polygon points="595,389 703,358 703,366 595,398" fill="#5a5a5a"/>
<g stroke="#93a3a4" stroke-width="1.3" opacity="0.7"><line x1="485" y1="300" x2="485" y2="347"/><line x1="507" y1="305" x2="507" y2="355"/><line x1="542" y1="310" x2="542" y2="368"/><line x1="563" y1="312" x2="563" y2="362"/><line x1="582" y1="318" x2="582" y2="378"/><line x1="602" y1="325" x2="602" y2="380"/><line x1="623" y1="320" x2="623" y2="355"/><line x1="647" y1="305" x2="647" y2="345"/><line x1="672" y1="305" x2="672" y2="345"/><line x1="690" y1="300" x2="690" y2="340"/></g>
<path d="M470,300 C475,292 500,300 540,309 C580,318 630,322 650,336 C665,348 660,370 640,376 C615,383 580,380 545,368 C510,356 485,340 475,322 C470,312 468,305 470,300 Z" fill="url(#pp)"/>
<path d="M470,300 C475,292 500,300 540,309 C580,318 630,322 650,336 C665,348 660,370 640,376 C615,383 580,380 545,368 C510,356 485,340 475,322 C470,312 468,305 470,300 Z" fill="url(#plo)"/>
<polygon points="418,286 458,275 690,290 703,295 595,318" fill="#b8d4a8" stroke="#e0ecd8" stroke-width="0.8"/>
<g stroke="#e8f0f0" stroke-width="0.6" fill="none"><polyline points="418,286 418,349"/><polyline points="595,318 595,398"/><polyline points="703,295 703,366"/><polyline points="418,341 595,389 703,358"/></g>
<!-- equipment -->
<rect x="455" y="277" width="32" height="11" fill="#a8361e"/><polygon points="453,278 470,272 489,277 472,282" fill="#ece4d4"/><rect x="468" y="282" width="6" height="4" fill="#f0d060"/>
<rect x="476" y="267" width="4" height="5" fill="#d0a020"/>
<g fill="#7a7a7a"><rect x="517" y="274" width="12" height="7" rx="1"/><rect x="576" y="279" width="13" height="8" rx="1"/><rect x="643" y="287" width="13" height="8" rx="1"/></g>
<g fill="#e0b040"><rect x="519" y="270" width="4" height="5"/><rect x="580" y="275" width="4" height="5"/><rect x="647" y="283" width="4" height="5"/></g>
<g stroke="#5a8a50" stroke-width="1.2"><line x1="507" y1="283" x2="507" y2="288"/><line x1="485" y1="287" x2="485" y2="292"/><line x1="540" y1="292" x2="540" y2="298"/><line x1="563" y1="288" x2="563" y2="294"/><line x1="602" y1="298" x2="602" y2="306"/><line x1="625" y1="295" x2="625" y2="302"/></g>
<!-- inset -->
<ellipse cx="728" cy="299" rx="50" ry="40" fill="#d8b48a"/>
<g clip-path="url(#ci)">
 <g stroke="#7edde4" stroke-width="6" fill="none" stroke-linecap="round"><path d="M680,290 L700,296 L720,300 L745,292 L778,285"/><path d="M700,296 L695,270 L700,255"/><path d="M720,300 L735,270 L745,255"/><path d="M745,292 L765,310 L780,315"/><path d="M720,300 L728,320 L735,345"/><path d="M728,320 L705,335 L690,345"/><path d="M745,292 L760,270 L775,262"/><path d="M700,296 L685,318"/><path d="M728,320 L755,330"/></g>
 <g fill="#d41a1a"><path d="M712,265 L728,262 L732,276 L716,280 Z"/><path d="M680,300 L692,302 L690,314 L680,312 Z"/><path d="M700,305 L715,308 L712,322 L700,318 Z"/><path d="M750,295 L768,292 L768,305 L755,306 Z"/><path d="M740,312 L752,318 L748,330 L738,326 Z"/><path d="M710,322 L720,326 L716,336 L706,333 Z"/><path d="M684,268 L694,266 L694,282 L684,284 Z"/><path d="M752,268 L762,262 L768,276 L756,280 Z"/><path d="M690,330 L700,334 L698,342 L688,340 Z"/></g>
 <g fill="#111"><circle cx="700" cy="283" r="2.3"/><circle cx="690" cy="296" r="2.3"/><circle cx="720" cy="296" r="2.3"/><circle cx="745" cy="281" r="2.3"/><circle cx="748" cy="262" r="2.3"/><circle cx="712" cy="309" r="2.3"/><circle cx="742" cy="308" r="2.3"/><circle cx="766" cy="318" r="2.3"/><circle cx="730" cy="330" r="2.3"/><circle cx="710" cy="332" r="2.3"/><circle cx="770" cy="289" r="2.3"/></g>
</g>
<ellipse cx="728" cy="299" rx="50" ry="40" fill="none" stroke="#e03030" stroke-width="1.5"/>
<g font-size="4.5" style="fill:#222"><text x="718" y="274">污染物</text><text x="702" y="297">修复材料</text><text x="743" y="305">孔隙</text></g>
<circle cx="583" cy="330" r="3.2" fill="none" stroke="#e02020" stroke-width="1"/>
<line x1="586" y1="329" x2="672" y2="312" stroke="#e02020" stroke-width="1"/>
<path d="M678,311 l-6,-1.5 l1,4.5 z" fill="#e02020"/>
<!-- leader lines -->
<g stroke="#3a5080" stroke-width="0.8"><line x1="490" y1="347" x2="447" y2="380"/><line x1="523" y1="347" x2="507" y2="436"/><line x1="573" y1="358" x2="593" y2="436"/><line x1="603" y1="351" x2="677" y2="436"/><line x1="655" y1="362" x2="688" y2="393"/></g>
<g fill="#fff" stroke="#3f5fa0" stroke-width="0.9"><circle cx="490" cy="347" r="3"/><circle cx="523" cy="347" r="3"/><circle cx="573" cy="358" r="3"/><circle cx="603" cy="351" r="3"/><circle cx="655" cy="362" r="3"/></g>
<!-- callouts -->
<g fill="#fff" stroke="#a8b8d4" stroke-width="1"><rect x="400" y="379" width="100" height="38" rx="5"/><rect x="688" y="380" width="90" height="37" rx="5"/><rect x="440" y="436" width="102" height="37" rx="5"/><rect x="549" y="436" width="101" height="37" rx="5"/><rect x="658" y="436" width="90" height="37" rx="5"/></g>
<g font-size="9" class="b" text-anchor="middle">
 <text x="450" y="396">原位注入技术</text><text x="450" y="411.5">高压旋喷水土一体化</text>
 <text x="733" y="396">非连续渗透反应墙</text><text x="733" y="411.5">原位降解反应柱</text>
 <text x="491" y="452">污染羽高度污染区</text><text x="491" y="466.5">介孔SiO<tspan font-size="6" dy="1.5">2</tspan><tspan dy="-1.5">负载材料</tspan></text>
 <text x="599.5" y="452">污染羽中度污染区</text><text x="599.5" y="466.5">碳基负载、核壳材料</text>
 <text x="703" y="452">污染羽低度污染区</text><text x="703" y="466.5">生物耦合材料</text>
</g>
<text x="590.5" y="495" font-size="14.3" class="b" text-anchor="middle" textLength="315" lengthAdjust="spacingAndGlyphs">场地土壤和地下水污染一体化原位修复技术与装备</text>
</svg>
</body></html>
